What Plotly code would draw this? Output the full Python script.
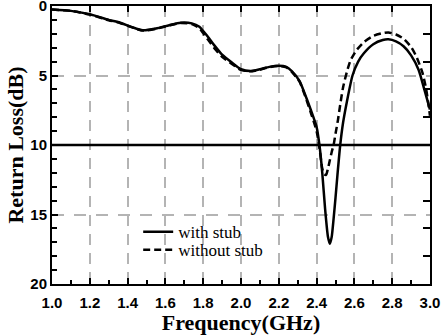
import plotly.graph_objects as go

# ---- data ----
freq_with = [1.00, 1.10, 1.20, 1.30, 1.36, 1.42, 1.48, 1.55, 1.62, 1.68, 1.74, 1.78, 1.80,
             1.83, 1.86, 1.90, 1.95, 2.00, 2.05, 2.10, 2.15, 2.20, 2.24, 2.27, 2.31, 2.34,
             2.37, 2.40, 2.415, 2.43, 2.445, 2.46, 2.47, 2.48, 2.49, 2.50, 2.51, 2.525,
             2.54, 2.56, 2.59, 2.62, 2.65, 2.70, 2.75, 2.78, 2.82, 2.86, 2.90, 2.94, 2.97, 3.00]
rl_with = [0.25, 0.35, 0.60, 1.00, 1.20, 1.50, 1.75, 1.62, 1.38, 1.20, 1.25, 1.50, 1.80,
           2.30, 2.85, 3.50, 4.05, 4.55, 4.68, 4.55, 4.38, 4.30, 4.38, 4.70, 5.40, 6.40,
           7.50, 8.70, 10.0, 12.0, 14.6, 16.6, 17.1, 16.6, 15.3, 13.8, 12.2, 10.0,
           8.4, 6.9, 5.0, 4.0, 3.4, 2.75, 2.45, 2.40, 2.55, 2.90, 3.55, 4.60, 6.00, 7.45]

freq_without = [1.00, 1.10, 1.20, 1.30, 1.36, 1.42, 1.48, 1.55, 1.62, 1.68, 1.74, 1.78, 1.80,
                1.83, 1.86, 1.90, 1.95, 2.00, 2.05, 2.10, 2.15, 2.20, 2.24, 2.27, 2.31, 2.34,
                2.37, 2.40, 2.415, 2.43, 2.44, 2.45, 2.46, 2.47, 2.48, 2.49, 2.50, 2.513,
                2.525, 2.54, 2.56, 2.58, 2.61, 2.65, 2.70, 2.75, 2.78, 2.82, 2.86, 2.90,
                2.93, 2.96, 2.98, 3.00]
rl_without = [0.25, 0.35, 0.62, 1.02, 1.22, 1.52, 1.77, 1.64, 1.40, 1.22, 1.30, 1.60, 1.95,
              2.50, 3.05, 3.65, 4.15, 4.60, 4.70, 4.58, 4.40, 4.32, 4.42, 4.75, 5.45, 6.50,
              7.70, 9.00, 10.2, 11.7, 12.1, 12.15, 11.7, 11.1, 10.5, 10.0, 9.2, 8.2,
              7.1, 5.86, 4.75, 3.90, 3.20, 2.60, 2.15, 1.95, 1.90, 2.05, 2.35, 2.95,
              3.70, 4.80, 6.00, 7.90]

x_ticks = [1.0, 1.2, 1.4, 1.6, 1.8, 2.0, 2.2, 2.4, 2.6, 2.8, 3.0]
x_tick_labels = ["1.0", "1.2", "1.4", "1.6", "1.8", "2.0", "2.2", "2.4", "2.6", "2.8", "3.0"]
y_ticks = [0, 5, 10, 15, 20]
y_tick_labels = ["0", "5", "10", "15", "20"]
y_right_ticks = [2, 4, 6, 8, 12, 14, 16, 18]
threshold = 10

fig = go.Figure()
fig.add_trace(go.Scatter(x=freq_with, y=rl_with, mode="lines", name="with stub",
                         legend="legend",
                         line=dict(color="black", width=2.5, shape="spline", smoothing=0.6)))
fig.add_trace(go.Scatter(x=freq_without, y=rl_without, mode="lines", name="without stub",
                         legend="legend2",
                         line=dict(color="black", width=2.5, dash="7px,4px",
                                   shape="spline", smoothing=0.6)))
# empty trace so the mirrored top/right tick axes get drawn
fig.add_trace(go.Scatter(x=[None], y=[None], xaxis="x2", yaxis="y2", showlegend=False,
                         hoverinfo="skip"))

fig.add_shape(type="line", xref="paper", yref="y", x0=0, x1=1, y0=threshold, y1=threshold,
              line=dict(color="black", width=2.5), layer="above")

tickfont = dict(family="Liberation Sans", size=15, color="black", weight="bold")
titlefont = dict(family="Liberation Serif", size=22, color="black", weight="bold")
legfont = dict(family="Liberation Serif", size=17, color="black")

fig.update_layout(
    width=442, height=335,
    margin=dict(l=52, r=12, t=6, b=51, autoexpand=False),
    paper_bgcolor="white", plot_bgcolor="white",
    showlegend=True,
    legend=dict(x=0.228, y=0.251, xanchor="left", yanchor="top",
                bgcolor="rgba(0,0,0,0)", borderwidth=0, font=legfont),
    legend2=dict(x=0.228, y=0.186, xanchor="left", yanchor="top",
                 bgcolor="rgba(0,0,0,0)", borderwidth=0, font=legfont),
    xaxis=dict(range=[1.0, 3.0], tickmode="array", tickvals=x_ticks, ticktext=x_tick_labels,
               ticks="inside", ticklen=6, tickwidth=2, tickcolor="black",
               minor=dict(dtick=0.1, tick0=1.0, ticks="inside", ticklen=4, tickwidth=2,
                          tickcolor="black", showgrid=False),
               showline=True, linewidth=2, linecolor="black", mirror=True,
               showgrid=True, gridcolor="#b4b4b4", gridwidth=2, griddash="11px,8px",
               tickfont=tickfont, zeroline=False, ticklabelstandoff=4,
               ticklabeloverflow="allow", automargin=False,
               title=dict(text="Frequency(GHz)", font=titlefont, standoff=0)),
    xaxis2=dict(range=[1.0, 3.0], overlaying="x", side="top", tickmode="array",
                tickvals=x_ticks, ticks="inside", ticklen=6, tickwidth=2, tickcolor="black",
                showticklabels=False, showgrid=False, showline=False, zeroline=False,
                automargin=False),
    yaxis=dict(range=[20, 0], tickmode="array", tickvals=y_ticks, ticktext=y_tick_labels,
               ticks="inside", ticklen=6, tickwidth=2, tickcolor="black",
               minor=dict(dtick=1, tick0=0, ticks="inside", ticklen=5, tickwidth=2,
                          tickcolor="black", showgrid=False),
               showline=True, linewidth=2, linecolor="black", mirror=True,
               showgrid=True, gridcolor="#b4b4b4", gridwidth=2, griddash="12px,10px",
               tickfont=tickfont, zeroline=False, ticklabeloverflow="allow",
               automargin=False,
               title=dict(text="Return Loss(dB)", font=titlefont, standoff=1)),
    yaxis2=dict(range=[20, 0], overlaying="y", side="right", tickmode="array",
                tickvals=y_right_ticks, ticks="inside", ticklen=7, tickwidth=2,
                tickcolor="black", showticklabels=False, showgrid=False, showline=False,
                zeroline=False, automargin=False),
)

fig.write_html("out.html")
